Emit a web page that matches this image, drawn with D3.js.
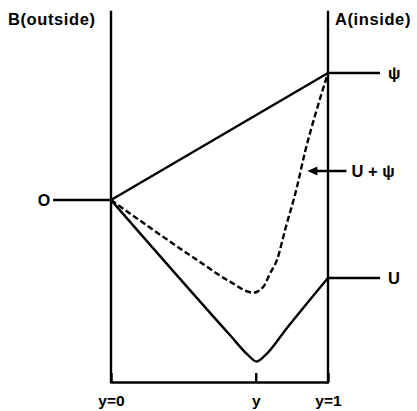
<!DOCTYPE html>
<html>
<head>
<meta charset="utf-8">
<script src="https://cdn.jsdelivr.net/npm/d3@7"></script>
<style>
  html, body { margin: 0; padding: 0; background: #fff; }
  svg { display: block; }
  text { font-family: "Liberation Sans", Arial, sans-serif; font-weight: bold; fill: #000; }
</style>
</head>
<body>
<svg id="chart" width="417" height="411"></svg>
<script>
// Position across the membrane (0 = outside face B, 1 = inside face A)
// and potential values, with psi(1) taken as one unit.
const psiPts = [[0, 0], [1, 1]];
const uPts = [
  [0, 0], [0.548, -1.063], [0.631, -1.220], [0.671, -1.272],
  [0.710, -1.224], [0.811, -1.008], [1, -0.614]
];
const sumPts = [
  [0, 0], [0.410, -0.488], [0.548, -0.643], [0.656, -0.730],
  [0.702, -0.683], [0.733, -0.577], [0.765, -0.472], [0.802, -0.236],
  [0.857, 0.102], [0.894, 0.378], [0.945, 0.693], [1, 1]
];
const tickValues = [0, 0.667, 1];
const tickLabels = ["y=0", "y", "y=1"];
const sideLabels = ["B(outside)", "A(inside)"];
const outsideLevel = 0;
const outsideLabel = "O";
const leadEnd = 1.24;       // where the inside-level leads stop
const outsideStart = -0.267; // where the outside-level lead starts
const frameTop = 1.49, frameBottom = -1.433;
const arrowAt = { v: 0.228, from: 1.085, to: 0.905 };

const SW = 2.4;
const svg = d3.select("#chart");
const x = d3.scaleLinear().domain([0, 1]).range([111, 328]);
const y = d3.scaleLinear().domain([0, 1]).range([200, 73]);

const line = d3.line().x(d => x(d[0])).y(d => y(d[1]));
const smooth = d3.line().x(d => x(d[0])).y(d => y(d[1])).curve(d3.curveMonotoneX);

// membrane faces
svg.selectAll("line.face").data([0, 1]).enter().append("line")
  .attr("class", "face")
  .attr("x1", d => x(d)).attr("x2", d => x(d))
  .attr("y1", y(frameTop)).attr("y2", y(frameBottom) + 1.5)
  .attr("stroke", "#000").attr("stroke-width", SW);

// position axis along the bottom
const axis = d3.axisBottom(x)
  .tickValues(tickValues)
  .tickFormat((d, i) => tickLabels[i])
  .tickSizeInner(-9).tickSizeOuter(0).tickPadding(13);
const ax = svg.append("g").attr("transform", `translate(0,${y(frameBottom)})`).call(axis);
ax.select(".domain").attr("stroke", "#000").attr("stroke-width", SW);
ax.selectAll(".tick line").attr("stroke", "#000").attr("stroke-width", SW);
ax.selectAll(".tick text").attr("font-size", 15.5).attr("font-family", null).attr("fill", "#000");

// side labels
svg.append("text").attr("x", 8).attr("y", 25).attr("font-size", 16.5)
  .attr("letter-spacing", 0.6).text(sideLabels[0]);
svg.append("text").attr("x", 335).attr("y", 25).attr("font-size", 16.5)
  .attr("letter-spacing", 0.6).text(sideLabels[1]);

// outside level lead and label
svg.append("path").datum([[outsideStart, outsideLevel], [0, outsideLevel]])
  .attr("d", line).attr("fill", "none").attr("stroke", "#000").attr("stroke-width", SW);
svg.append("text").attr("x", x(outsideStart) - 9).attr("y", y(outsideLevel) + 6)
  .attr("text-anchor", "middle").attr("font-size", 16).text(outsideLabel);

// psi and U curves
svg.append("path").datum(psiPts).attr("d", line)
  .attr("fill", "none").attr("stroke", "#000").attr("stroke-width", SW);
svg.append("path").datum(uPts).attr("d", smooth)
  .attr("fill", "none").attr("stroke", "#000").attr("stroke-width", SW);
// U + psi (dashed)
svg.append("path").datum(sumPts).attr("d", smooth)
  .attr("fill", "none").attr("stroke", "#000").attr("stroke-width", SW)
  .attr("stroke-dasharray", "6,3");

// inside level leads with labels
const leads = [
  { v: psiPts[psiPts.length - 1][1], label: "ψ" },
  { v: uPts[uPts.length - 1][1], label: "U" }
];
leads.forEach(l => {
  svg.append("path").datum([[1, l.v], [leadEnd, l.v]]).attr("d", line)
    .attr("fill", "none").attr("stroke", "#000").attr("stroke-width", SW);
  svg.append("text").attr("x", x(leadEnd) + 8).attr("y", y(l.v) + 6)
    .attr("font-size", 16.5).text(l.label);
});

// arrow pointing at the dashed curve
const ay = y(arrowAt.v);
svg.append("line").attr("x1", x(arrowAt.from)).attr("x2", x(arrowAt.to) + 6)
  .attr("y1", ay).attr("y2", ay).attr("stroke", "#000").attr("stroke-width", SW);
svg.append("path")
  .attr("d", `M${x(arrowAt.to)},${ay} l10,-4.5 l0,9 z`).attr("fill", "#000");
svg.append("text").attr("x", x(arrowAt.from) + 5).attr("y", ay + 6)
  .attr("font-size", 16.5).text("U + ψ");
</script>
</body>
</html>
